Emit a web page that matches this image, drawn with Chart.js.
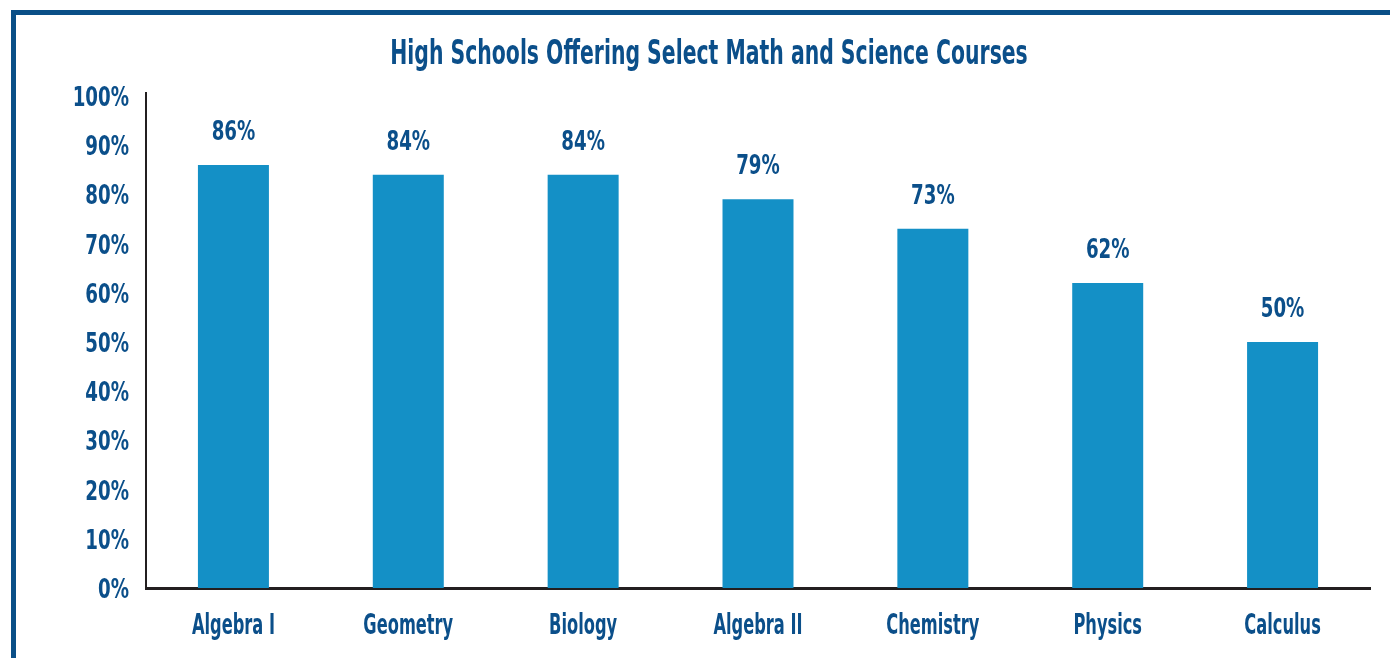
<!DOCTYPE html>
<html>
<head>
<meta charset="utf-8">
<script src="https://cdn.jsdelivr.net/npm/chart.js@4.4.1/dist/chart.umd.min.js"></script>
<style>
  html, body { margin: 0; padding: 0; background: #ffffff; }
  #wrap { position: relative; width: 1390px; height: 658px; overflow: hidden; }
  #frame { position: absolute; left: 11px; top: 10px; width: 1400px; height: 700px;
           border-left: 5px solid #0a4f87; border-top: 5px solid #0a4f87; box-sizing: border-box; }
  canvas { position: absolute; left: 0; top: 0; }
</style>
</head>
<body>
<div id="wrap">
  <div id="frame"></div>
  <canvas id="c" width="1390" height="658"></canvas>
</div>
<script>
const titleText = 'High Schools Offering Select Math and Science Courses';
const categories = ['Algebra I', 'Geometry', 'Biology', 'Algebra II', 'Chemistry', 'Physics', 'Calculus'];
const percentages = [86, 84, 84, 79, 73, 62, 50];
const yTicks = [0, 10, 20, 30, 40, 50, 60, 70, 80, 90, 100];

const textColor = '#0b4f8a';
const barColor = '#1490c6';
const fontFamily = '"DejaVu Sans Condensed", "Liberation Sans Narrow", sans-serif';

// draws text horizontally compressed (condensed typeface look)
function condensedText(ctx, text, x, y, size, sx, align) {
  ctx.save();
  ctx.font = 'bold ' + size + 'px ' + fontFamily;
  ctx.fillStyle = textColor;
  ctx.textBaseline = 'alphabetic';
  ctx.textAlign = align;
  ctx.translate(x, y);
  ctx.scale(sx, 1);
  ctx.fillText(text, 0, 0);
  ctx.restore();
}

const textPlugin = {
  id: 'textPlugin',
  afterDraw(chart) {
    const ctx = chart.ctx;
    const area = chart.chartArea;
    const xs = chart.scales.x;
    const ys = chart.scales.y;

    // small extension of the y axis line above the 100% mark
    ctx.save();
    ctx.strokeStyle = '#231f20';
    ctx.lineWidth = 2;
    ctx.beginPath();
    ctx.moveTo(area.left, area.top - 4);
    ctx.lineTo(area.left, area.top + 1);
    ctx.stroke();
    ctx.restore();

    // title
    condensedText(ctx, titleText, 709, 64, 34, 0.667, 'center');

    // y tick labels
    ys.ticks.forEach((t, i) => {
      const y = ys.getPixelForTick(i);
      condensedText(ctx, t.value + '%', area.left - 17, y + 10, 26, 0.78, 'right');
    });

    // x tick labels
    categories.forEach((c, i) => {
      const x = xs.getPixelForTick(i);
      condensedText(ctx, c, x, area.bottom + 46, 28, 0.645, 'center');
    });

    // value labels
    const meta = chart.getDatasetMeta(0);
    meta.data.forEach((bar, i) => {
      condensedText(ctx, percentages[i] + '%', bar.x, bar.y - 25, 27, 0.75, 'center');
    });
  }
};

new Chart(document.getElementById('c'), {
  type: 'bar',
  data: {
    labels: categories,
    datasets: [{
      data: percentages,
      backgroundColor: barColor,
      barPercentage: 0.406,
      categoryPercentage: 1.0
    }]
  },
  options: {
    responsive: false,
    animation: false,
    layout: { padding: { left: 0, right: 20, top: 96, bottom: 0 } },
    plugins: {
      legend: { display: false },
      tooltip: { enabled: false },
      title: { display: false }
    },
    scales: {
      x: {
        grid: { display: false, drawTicks: false },
        border: { display: true, color: '#231f20', width: 3 },
        ticks: {
          color: 'rgba(0,0,0,0)',
          font: { family: fontFamily, size: 26, weight: 'bold' },
          padding: 22
        },
        afterFit(scale) { scale.height = 70; }
      },
      y: {
        min: 0,
        max: 100,
        grid: { display: false, drawTicks: false },
        border: { display: true, color: '#231f20', width: 2 },
        afterBuildTicks(scale) { scale.ticks = yTicks.map(v => ({ value: v })); },
        ticks: {
          color: 'rgba(0,0,0,0)',
          font: { family: fontFamily, size: 26, weight: 'bold' },
          padding: 18,
          callback: (v) => v + '%'
        },
        afterFit(scale) { scale.width = 146; }
      }
    }
  },
  plugins: [textPlugin]
});
</script>
</body>
</html>
